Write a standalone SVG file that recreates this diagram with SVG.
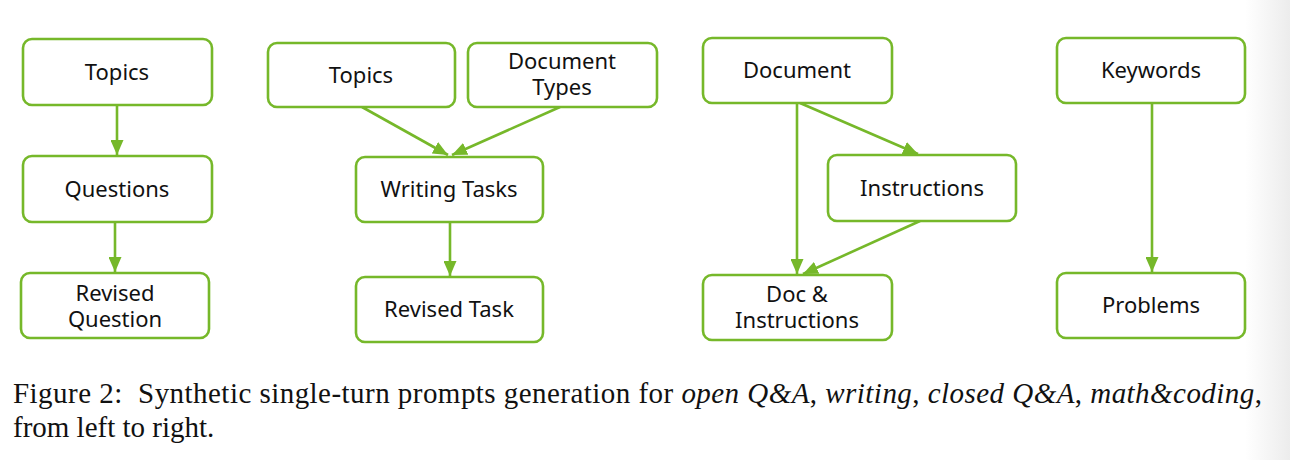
<svg xmlns="http://www.w3.org/2000/svg" width="1290" height="460" viewBox="0 0 1290 460">
<style>
.box{fill:#fff;stroke:#76B82A;stroke-width:2.6}
.lbl{font-family:"Noto Sans","DejaVu Sans",sans-serif;font-size:22px;fill:#111;text-anchor:middle}
.edge{stroke:#76B82A;stroke-width:2.6;fill:none;marker-end:url(#ah)}
.cap{font-family:"Liberation Serif","Times New Roman",serif;font-size:29px;fill:#111}
</style>
<defs>
<marker id="ah" markerUnits="userSpaceOnUse" markerWidth="15" markerHeight="13" refX="15" refY="6.5" orient="auto">
<path d="M0,0 L15,6.5 L0,13 z" fill="#76B82A"/>
</marker>
<linearGradient id="edgeShade" x1="0" y1="0" x2="1" y2="0">
<stop offset="0" stop-color="#ffffff"/>
<stop offset="1" stop-color="#ececec"/>
</linearGradient>
</defs>
<rect x="0" y="0" width="1290" height="460" fill="#fff"/>
<rect x="1245" y="0" width="45" height="460" fill="url(#edgeShade)"/>

<g id="connectors">
<line class="edge" x1="117" y1="105" x2="117" y2="155"/>
<line class="edge" x1="115" y1="222" x2="115" y2="272"/>
<line class="edge" x1="362" y1="107" x2="448" y2="155"/>
<line class="edge" x1="560" y1="107" x2="452" y2="155"/>
<line class="edge" x1="450" y1="222" x2="450" y2="276"/>
<line class="edge" x1="797" y1="103" x2="797" y2="274"/>
<line class="edge" x1="800" y1="103" x2="918" y2="154"/>
<line class="edge" x1="920" y1="221" x2="803" y2="274"/>
<line class="edge" x1="1152" y1="103" x2="1152" y2="272"/>
</g>

<g id="n-topics1"><rect class="box" x="23" y="39" width="189" height="66" rx="9"/><text class="lbl" x="117" y="80">Topics</text></g>
<g id="n-questions"><rect class="box" x="23" y="156" width="189" height="66" rx="9"/><text class="lbl" x="117" y="197">Questions</text></g>
<g id="n-revq"><rect class="box" x="21" y="273" width="188" height="65" rx="9"/><text class="lbl" x="115" y="301">Revised<tspan x="115" dy="26">Question</tspan></text></g>

<g id="n-topics2"><rect class="box" x="268" y="43" width="187" height="64" rx="9"/><text class="lbl" x="361" y="83">Topics</text></g>
<g id="n-doctypes"><rect class="box" x="468" y="43" width="189" height="64" rx="9"/><text class="lbl" x="562" y="69">Document<tspan x="562" dy="26">Types</tspan></text></g>
<g id="n-writing"><rect class="box" x="356" y="157" width="187" height="65" rx="9"/><text class="lbl" x="449" y="197">Writing Tasks</text></g>
<g id="n-revtask"><rect class="box" x="356" y="277" width="187" height="65" rx="9"/><text class="lbl" x="449" y="317">Revised Task</text></g>

<g id="n-document"><rect class="box" x="703" y="38" width="189" height="65" rx="9"/><text class="lbl" x="797" y="78">Document</text></g>
<g id="n-instr"><rect class="box" x="828" y="155" width="188" height="66" rx="9"/><text class="lbl" x="922" y="196">Instructions</text></g>
<g id="n-docinstr"><rect class="box" x="703" y="275" width="189" height="65" rx="9"/><text class="lbl" x="797" y="302">Doc &amp;<tspan x="797" dy="26">Instructions</tspan></text></g>

<g id="n-keywords"><rect class="box" x="1057" y="38" width="188" height="65" rx="9"/><text class="lbl" x="1151" y="78">Keywords</text></g>
<g id="n-problems"><rect class="box" x="1057" y="273" width="188" height="65" rx="9"/><text class="lbl" x="1151" y="313">Problems</text></g>

<text class="cap" x="13" y="403" textLength="1249" lengthAdjust="spacing">Figure 2:&#160; Synthetic single-turn prompts generation for <tspan font-style="italic">open Q&amp;A</tspan>, <tspan font-style="italic">writing</tspan>, <tspan font-style="italic">closed Q&amp;A</tspan>, <tspan font-style="italic">math&amp;coding</tspan>,</text>
<text class="cap" x="13" y="437">from left to right.</text>
</svg>
